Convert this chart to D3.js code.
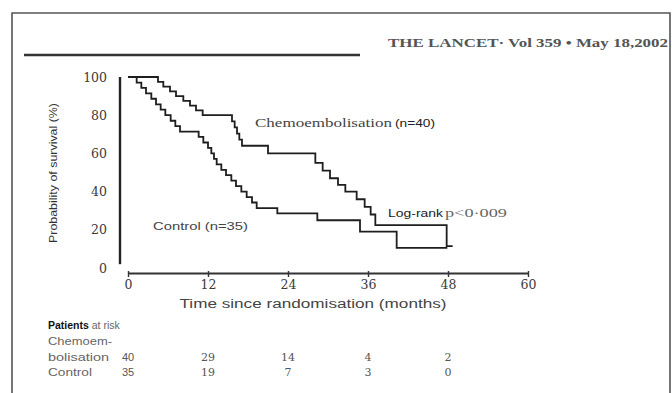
<!DOCTYPE html>
<html><head><meta charset="utf-8">
<script src="https://cdn.jsdelivr.net/npm/d3@7"></script>
<style>html,body{margin:0;padding:0;background:#fff;}svg{display:block;}</style>
</head><body>
<script>
// ---- data ----
const xTicks = [0, 12, 24, 36, 48, 60];
const yTicks = [0, 20, 40, 60, 80, 100];

const chemoTimes = [0, 4.5, 5.3, 6.3, 7.2, 8.3, 9.3, 10.2, 11.2, 15.6, 16.0, 16.35, 16.7, 17.1, 21.0,
  28.1, 29.2, 30.3, 31.5, 32.6, 34.3, 35.5, 36.4, 37.1, 47.8, 48.7];
const chemoSurv = [100, 97.5, 95, 92.5, 90, 87.5, 85, 82.5, 80, 76.8, 73.6, 70.4, 67.2, 64, 60,
  55, 51, 47, 43.5, 40, 36, 32, 28, 22.5, 11.5, 11.5];

const controlTimes = [0, 1.3, 2.0, 2.7, 3.5, 4.2, 4.9, 5.6, 6.4, 7.1, 7.8, 10.6, 11.3, 12.0, 12.5, 12.9,
  13.3, 14.0, 14.7, 15.5, 16.2, 17.0, 17.8, 18.6, 19.3, 22.4, 28.4, 34.8, 40.3, 47.9];
const controlSurv = [100, 97.1, 94.3, 91.4, 88.6, 85.7, 82.9, 80, 77.1, 74.3, 71.4, 68.6, 65.7, 62.9, 60, 57.1,
  54.3, 51.4, 48.6, 45.7, 42.9, 40, 37.1, 34.3, 31.4, 28.6, 25, 19, 10.5, 10.5];

const riskTimes = [0, 12, 24, 36, 48];
const chemoRisk = ["40", "29", "14", "4", "2"];
const controlRisk = ["35", "19", "7", "3", "0"];

// ---- drawing ----
const W = 672, H = 393;
const svg = d3.select("body").append("svg").attr("width", W).attr("height", H);
svg.append("rect").attr("width", W).attr("height", H).attr("fill", "#fff");

const SERIF = "'Liberation Serif', 'DejaVu Serif', serif";
const SANS = "'Liberation Sans', Arial, sans-serif";
const TICKSERIF = "'DejaVu Serif', serif";

const x = d3.scaleLinear().domain([0, 60]).range([128, 528]);
const y = d3.scaleLinear().domain([0, 100]).range([268, 77]);

// frame
svg.append("path").attr("d", `M12,393 V13 H670 V393`).attr("fill", "none")
  .attr("stroke", "#555").attr("stroke-width", 1.6);

// header rule and title
svg.append("line").attr("x1", 24).attr("x2", 360).attr("y1", 55).attr("y2", 55)
  .attr("stroke", "#333").attr("stroke-width", 2.5);
svg.append("text").attr("x", 388).attr("y", 47).attr("textLength", 280).attr("lengthAdjust", "spacingAndGlyphs")
  .attr("font-family", SERIF).attr("font-weight", "bold").attr("font-size", 13).attr("fill", "#555")
  .text("THE LANCET· Vol 359 • May 18,2002");

// y axis
const gy = svg.append("g").attr("transform", "translate(120,0)")
  .call(d3.axisLeft(y).tickValues(yTicks).tickSize(0).tickPadding(13));
gy.select(".domain").attr("d", `M0,${y(100)}V${y(2)}`).attr("stroke", "#222").attr("stroke-width", 2.4);
gy.selectAll("text").attr("font-family", TICKSERIF).attr("font-size", 12.5).attr("fill", "#3a3a3a");

// x axis
const gx = svg.append("g").attr("transform", "translate(0,273)")
  .call(d3.axisBottom(x).tickValues(xTicks).tickSizeInner(4).tickSizeOuter(0).tickPadding(3));
gx.select(".domain").attr("stroke", "#333").attr("stroke-width", 2);
gx.selectAll(".tick line").attr("y1", -2).attr("stroke", "#333").attr("stroke-width", 1.4);
gx.selectAll("text").attr("font-family", TICKSERIF).attr("font-size", 12.5).attr("fill", "#3a3a3a");

// axis titles
svg.append("text").attr("x", 313).attr("y", 308).attr("text-anchor", "middle")
  .attr("textLength", 267).attr("lengthAdjust", "spacingAndGlyphs")
  .attr("font-family", SANS).attr("font-size", 12).attr("fill", "#444")
  .text("Time since randomisation (months)");
svg.append("text").attr("transform", "translate(53,173) rotate(-90)").attr("dy", "0.35em")
  .attr("text-anchor", "middle").attr("textLength", 140).attr("lengthAdjust", "spacingAndGlyphs")
  .attr("font-family", SANS).attr("font-size", 11).attr("fill", "#333")
  .text("Probability of survival (%)");

// curves
const line = d3.line().x(d => x(d[0])).y(d => y(d[1])).curve(d3.curveStepAfter);
const chemo = chemoTimes.map((t, i) => [t, chemoSurv[i]]);
const control = controlTimes.map((t, i) => [t, controlSurv[i]]);
[chemo, control].forEach(d => {
  svg.append("path").datum(d).attr("d", line).attr("fill", "none")
    .attr("stroke", "#1e1e1e").attr("stroke-width", 1.8).attr("stroke-linejoin", "miter");
});

// annotations
function txt(xp, yp, s, fam, size, len, extra) {
  const t = svg.append("text").attr("x", xp).attr("y", yp).attr("font-family", fam)
    .attr("font-size", size).attr("fill", "#333").text(s);
  if (len) t.attr("textLength", len).attr("lengthAdjust", "spacingAndGlyphs");
  if (extra) extra(t);
  return t;
}
txt(255, 127, "Chemoembolisation", SERIF, 12.5, 137, t => t.attr("fill", "#444"));
txt(395, 127, "(n=40)", SANS, 11, 40, t => t.attr("fill", "#222"));
txt(153, 230, "Control (n=35)", SANS, 11, 95, t => t.attr("fill", "#444"));
txt(388, 217, "Log-rank", SANS, 11, 55, t => t.attr("fill", "#222"));
txt(445, 217, "p<0·009", SERIF, 11.5, 62, t => t.attr("fill", "#666"));

// risk table
const pr = svg.append("text").attr("x", 48).attr("y", 329).attr("font-family", SANS).attr("font-size", 10.5).attr("fill", "#333");
pr.append("tspan").attr("font-weight", "bold").attr("fill", "#111").text("Patients");
pr.append("tspan").attr("fill", "#666").text(" at risk");
txt(48, 345, "Chemoem-", SANS, 10.5, 64, t => t.attr("fill", "#666"));
txt(48, 361, "bolisation", SANS, 10.5, 61, t => t.attr("fill", "#666"));
txt(48, 376, "Control", SANS, 10.5, 44, t => t.attr("fill", "#666"));
riskTimes.forEach((t, i) => {
  const fam = i === 0 ? SANS : TICKSERIF;
  svg.append("text").attr("x", x(t)).attr("y", 361).attr("text-anchor", "middle")
    .attr("font-family", fam).attr("font-size", 11).attr("fill", "#555").text(chemoRisk[i]);
  svg.append("text").attr("x", x(t)).attr("y", 376).attr("text-anchor", "middle")
    .attr("font-family", fam).attr("font-size", 11).attr("fill", "#555").text(controlRisk[i]);
});
</script>
</body></html>
